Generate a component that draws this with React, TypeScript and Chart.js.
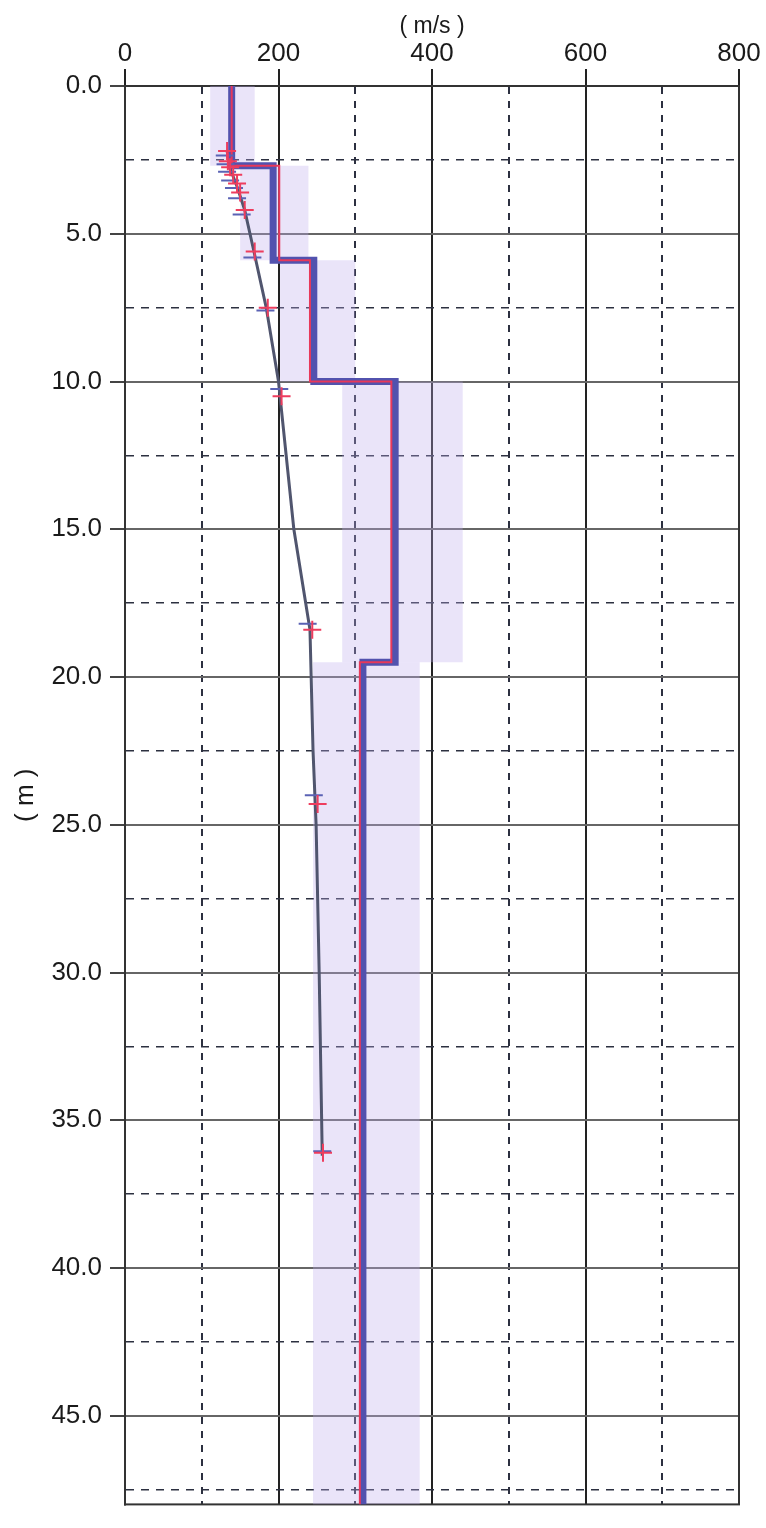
import React, { useEffect, useRef } from "react";
import { Chart, registerables } from "chart.js";

Chart.register(...registerables);

// Layer model (depth in m, velocity in m/s)
const layerTops = [0, 2.7, 5.9, 10.0, 19.5];
const layerBottoms = [2.7, 5.9, 10.0, 19.5, 48];
const blueVs = [139, 193, 246, 352, 310];
const redVs = [139, 201, 241, 347, 306];
const bandLow = [111, 150, 202, 283, 245];
const bandHigh = [169, 239, 300, 440, 384];

// Observed curve
const curveV = [133, 137, 146, 156, 168, 184, 200, 220, 241, 245, 249, 253, 257];
const curveD = [2.2, 2.8, 3.4, 4.2, 5.6, 7.5, 10.0, 15.0, 18.4, 22.5, 25.0, 30.0, 36.2];

// Red cross markers
const crossV = [133, 134, 137, 141, 146, 150, 156, 169, 186, 204, 244, 251, 258];
const crossD = [2.2, 2.55, 2.75, 3.0, 3.3, 3.6, 4.2, 5.6, 7.5, 10.5, 18.4, 24.3, 36.1];

// Blue bar markers
const barV = [130, 131, 133, 137, 142, 146, 152, 166, 183, 201, 238, 246, 257];
const barD = [2.35, 2.65, 2.9, 3.2, 3.45, 3.8, 4.35, 5.8, 7.6, 10.25, 18.2, 24.0, 36.05];

const xTitle = "( m/s )";
const yTitle = "( m )";
const xMin = 0;
const xMax = 800;
const yMin = 0;
const yMax = 48;

const FONT = "'Liberation Sans Narrow', 'Liberation Sans', Arial, sans-serif";

function stepPoints(vs: number[]) {
  const pts: { x: number; y: number }[] = [];
  vs.forEach((v, i) => {
    pts.push({ x: v, y: layerTops[i] });
    pts.push({ x: v, y: layerBottoms[i] });
  });
  return pts;
}

const framePlugin = {
  id: "frame",
  beforeDatasetsDraw(chart: any) {
    const { ctx, chartArea } = chart;
    ctx.save();
    ctx.strokeStyle = "#333";
    ctx.lineWidth = 2;
    ctx.strokeRect(chartArea.left, chartArea.top, chartArea.right - chartArea.left, chartArea.bottom - chartArea.top);
    ctx.restore();
  },
};

export default function App() {
  const ref = useRef<HTMLCanvasElement | null>(null);

  useEffect(() => {
    if (!ref.current) return;
    Chart.defaults.font.family = FONT;
    Chart.defaults.color = "#1a1a1a";

    const bands = layerTops.map((t, i) => ({
      type: "line" as const,
      data: [
        { x: bandLow[i], y: t },
        { x: bandHigh[i], y: t },
        { x: bandHigh[i], y: layerBottoms[i] },
        { x: bandLow[i], y: layerBottoms[i] },
        { x: bandLow[i], y: t },
      ],
      fill: "shape",
      backgroundColor: "rgba(190,170,235,0.32)",
      borderWidth: 0,
      borderColor: "rgba(0,0,0,0)",
      pointRadius: 0,
      tension: 0,
    }));

    const chart = new Chart(ref.current, {
      type: "line",
      data: {
        datasets: [
          {
            data: crossV.map((v, i) => ({ x: v, y: crossD[i] })),
            showLine: false,
            pointStyle: "cross",
            pointRadius: 9,
            pointBorderWidth: 2,
            pointBorderColor: "#ee3d5e",
            pointBackgroundColor: "#ee3d5e",
          },
          {
            data: barV.map((v, i) => ({ x: v, y: barD[i] })),
            showLine: false,
            pointStyle: "line",
            pointRadius: 9,
            pointBorderWidth: 2,
            pointBorderColor: "#5a62b4",
            pointBackgroundColor: "#5a62b4",
          },
          {
            data: stepPoints(redVs),
            borderColor: "#e8385a",
            borderWidth: 2,
            pointRadius: 0,
            fill: false,
            tension: 0,
            borderJoinStyle: "miter",
          },
          {
            data: stepPoints(blueVs),
            borderColor: "#5252ae",
            borderWidth: 7,
            pointRadius: 0,
            fill: false,
            tension: 0,
            borderJoinStyle: "miter",
          },
          {
            data: curveV.map((v, i) => ({ x: v, y: curveD[i] })),
            borderColor: "#50556e",
            borderWidth: 3,
            pointRadius: 0,
            fill: false,
            tension: 0,
          },
          ...bands,
        ] as any,
      },
      options: {
        animation: false,
        responsive: true,
        maintainAspectRatio: false,
        events: [],
        layout: { padding: { left: 0, top: 0, right: 27, bottom: 3 } },
        plugins: {
          legend: { display: false },
          tooltip: { enabled: false },
          title: { display: false },
        },
        scales: {
          x: {
            type: "linear",
            position: "top",
            min: xMin,
            max: xMax,
            afterFit: (scale: any) => {
              scale.height = 86;
            },
            title: {
              display: true,
              text: xTitle,
              font: { size: 23 },
              color: "#1a1a1a",
              padding: { top: 13, bottom: 0 },
            },
            ticks: {
              stepSize: 100,
              autoSkip: false,
              maxRotation: 0,
              padding: 0,
              font: { size: 26 },
              color: "#1a1a1a",
              callback: (v: any) => (Number(v) % 200 === 0 ? String(v) : ""),
            },
            grid: {
              color: (c: any) => (c.tick && c.tick.value % 200 !== 0 ? "#2c3040" : "#222"),
              lineWidth: 2,
              tickLength: 17,
              tickWidth: 2,
              tickColor: (c: any) => (c.tick && c.tick.value % 200 !== 0 ? "rgba(0,0,0,0)" : "#222"),
            },
            border: {
              display: true,
              color: "#333",
              width: 2,
              dash: (c: any) => (c.tick && c.tick.value % 200 !== 0 ? [7, 7] : []),
            },
          },
          y: {
            type: "linear",
            reverse: true,
            min: yMin,
            max: yMax,
            afterFit: (scale: any) => {
              scale.width = 125;
            },
            title: {
              display: true,
              text: yTitle,
              font: { size: 26 },
              color: "#1a1a1a",
              padding: { top: 10, bottom: 0 },
            },
            ticks: {
              stepSize: 2.5,
              autoSkip: false,
              includeBounds: false,
              padding: 8,
              font: { size: 26 },
              color: "#1a1a1a",
              callback: (v: any) => (Number(v) % 5 === 0 ? Number(v).toFixed(1) : ""),
            },
            grid: {
              color: (c: any) => (c.tick && c.tick.value % 5 !== 0 ? "#2c3040" : "#666"),
              lineWidth: (c: any) => (c.tick && c.tick.value % 5 !== 0 ? 1.5 : 2),
              tickLength: 15,
              tickWidth: 2,
              tickColor: (c: any) => (c.tick && c.tick.value % 5 !== 0 ? "rgba(0,0,0,0)" : "#444"),
            },
            border: {
              display: true,
              color: "#222",
              width: 2,
              dash: (c: any) => (c.tick && c.tick.value % 5 !== 0 ? [8, 7] : []),
            },
          },
        },
      } as any,
      plugins: [framePlugin],
    });

    return () => chart.destroy();
  }, []);

  return (
    <div
      style={{
        position: "fixed",
        left: 0,
        top: 0,
        width: 766,
        height: 1528,
        background: "#fff",
      }}
    >
      <canvas ref={ref} />
    </div>
  );
}
